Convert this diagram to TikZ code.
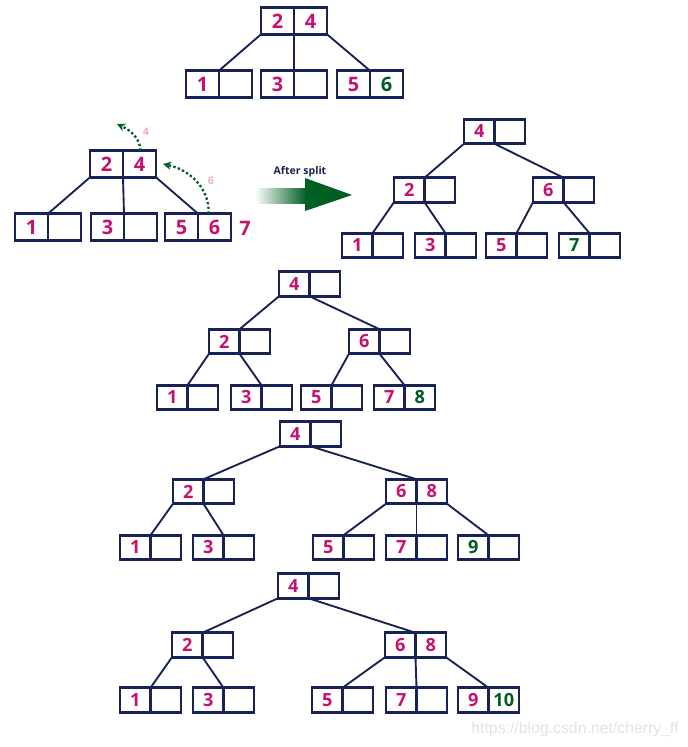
\documentclass[tikz,border=0pt]{standalone}
\usepackage{fontspec}
\setmainfont{Open Sans}
\newfontfamily\wmfont{Liberation Sans}
\usetikzlibrary{arrows.meta}

\definecolor{knavy}{RGB}{24,34,84}
\definecolor{kpink}{RGB}{200,16,110}
\definecolor{kgreen}{RGB}{0,92,32}
\definecolor{klight}{RGB}{242,165,205}
\definecolor{agreen}{RGB}{0,96,36}

\newcommand{\keys}{\fontsize{15.5}{15.5}\selectfont\bfseries}
\newcommand{\bigkeys}{\fontsize{17}{17}\selectfont\bfseries}
\newcommand{\nw}[1]{\textcolor{kgreen}{#1}}

%% one B-tree node = two key cells side by side
\newcommand{\keynode}[5]{%
    \node[cell] (#1a) at (#2,#3) {#4};
    \node[cell,anchor=west] (#1b) at (#1a.east) {#5};
}

\tikzset{
    cell/.style={draw=knavy, line width=2.2pt, text=kpink, font=\keys,
        minimum width=0.915cm, minimum height=0.735cm, inner sep=0pt, outer sep=0pt},
    bigcell/.style={cell/.append style={minimum width=0.99cm, minimum height=0.8cm, font=\bigkeys}},
    edge/.style={draw=knavy, line width=1.6pt},
    moveup/.style={draw=agreen, line width=2pt, dotted, -{Stealth[length=7pt,width=7pt]}},
}

\begin{document}
\begin{tikzpicture}[x=0.03cm,y=-0.03cm]
    \useasboundingbox (0,0) rectangle (687,747);

    %% insert 6
    \begin{scope}[bigcell]
        \keynode{t1r}{277.5}{21}{2}{4}
        \keynode{t1p}{202.5}{84}{1}{}
        \keynode{t1q}{277.5}{84}{3}{}
        \keynode{t1s}{353.5}{84}{5}{\nw{6}}
    \end{scope}
    \draw[edge] (t1ra.south west) -- (t1pa.north east);
    \draw[edge] (t1ra.south east) -- (t1qa.north east);
    \draw[edge] (t1rb.south east) -- (t1sa.north east);

    %% insert 7, node overflows
    \begin{scope}[bigcell]
        \keynode{t2r}{106.5}{164}{2}{4}
        \keynode{t2p}{31.5}{227}{1}{}
        \keynode{t2q}{107.5}{227}{3}{}
        \keynode{t2s}{181.5}{227}{5}{6}
    \end{scope}
    \node[font=\bigkeys, text=kpink] (seven) at (245,228) {7};
    \draw[edge] (t2ra.south west) -- (t2pa.north east);
    \draw[edge] (t2ra.south east) -- (t2qa.north east);
    \draw[edge] (t2rb.south east) -- (t2sa.north east);
    \coordinate (up4) at (117,124);
    \draw[moveup] ([xshift=1pt]t2rb.north) to[out=95,in=-25] (up4);
    \node[text=klight, font=\fontsize{9}{9}\selectfont\bfseries] (l4) at (146,132) {4};
    \draw[moveup] ([xshift=-5pt]t2sb.north) to[out=88,in=-12] ([xshift=6pt]t2rb.east);
    \node[text=klight, font=\fontsize{9}{9}\selectfont\bfseries] (l6) at (211,181) {6};

    %% split arrow
    \shade[left color=white, right color=agreen] (255,188) rectangle (306,203);
    \fill[agreen] (305,178) -- (352,195) -- (305,211) -- cycle;
    \node[text=knavy, font=\fontsize{9}{9}\selectfont\bfseries] (split) at (300,172) {After split};

    %% after split
    \keynode{t3r}{479.25}{131.5}{4}{}
    \keynode{t3l}{409.25}{190}{2}{}
    \keynode{t3m}{548.25}{190}{6}{}
    \keynode{t3c}{357.25}{245.5}{1}{}
    \keynode{t3d}{430.25}{245.5}{3}{}
    \keynode{t3e}{501.25}{245.5}{5}{}
    \keynode{t3f}{574.25}{245.5}{\nw{7}}{}
    \draw[edge] (t3ra.south west) -- (t3la.north east);
    \draw[edge] (t3ra.south east) -- (t3ma.north east);
    \draw[edge] (t3la.south west) -- (t3ca.north east);
    \draw[edge] (t3la.south east) -- (t3da.north east);
    \draw[edge] (t3ma.south west) -- (t3ea.north east);
    \draw[edge] (t3ma.south east) -- (t3fa.north east);

    %% insert 8
    \keynode{t4r}{294.25}{284}{4}{}
    \keynode{t4l}{224.25}{341.5}{2}{}
    \keynode{t4m}{364.25}{341.5}{6}{}
    \keynode{t4c}{172.25}{397.5}{1}{}
    \keynode{t4d}{246.25}{397.5}{3}{}
    \keynode{t4e}{316.25}{397.5}{5}{}
    \keynode{t4f}{389.25}{397.5}{7}{\nw{8}}
    \draw[edge] (t4ra.south west) -- (t4la.north east);
    \draw[edge] (t4ra.south east) -- (t4ma.north east);
    \draw[edge] (t4la.south west) -- (t4ca.north east);
    \draw[edge] (t4la.south east) -- (t4da.north east);
    \draw[edge] (t4ma.south west) -- (t4ea.north east);
    \draw[edge] (t4ma.south east) -- (t4fa.north east);

    %% insert 9
    \keynode{t5r}{295.25}{434}{4}{}
    \keynode{t5l}{188.25}{491.5}{2}{}
    \keynode{t5m}{401.25}{491.5}{6}{8}
    \keynode{t5c}{135.25}{547.5}{1}{}
    \keynode{t5d}{208.25}{547.5}{3}{}
    \keynode{t5e}{328.25}{547.5}{5}{}
    \keynode{t5f}{401.25}{547.5}{7}{}
    \keynode{t5g}{473.25}{547.5}{\nw{9}}{}
    \draw[edge] (t5ra.south west) -- (t5la.north east);
    \draw[edge] (t5ra.south east) -- (t5ma.north east);
    \draw[edge] (t5la.south west) -- (t5ca.north east);
    \draw[edge] (t5la.south east) -- (t5da.north east);
    \draw[edge] (t5ma.south west) -- (t5ea.north east);
    \draw[edge] (t5ma.south east) -- (t5fa.north east);
    \draw[edge] (t5mb.south east) -- (t5ga.north east);

    %% insert 10
    \keynode{t6r}{293.25}{586}{4}{}
    \keynode{t6l}{187.25}{645}{2}{}
    \keynode{t6m}{400.25}{645}{6}{8}
    \keynode{t6c}{135.25}{700}{1}{}
    \keynode{t6d}{208.25}{700}{3}{}
    \keynode{t6e}{327.25}{700}{5}{}
    \keynode{t6f}{401.25}{700}{7}{}
    \keynode{t6g}{473.25}{700}{9}{\nw{10}}
    \draw[edge] (t6ra.south west) -- (t6la.north east);
    \draw[edge] (t6ra.south east) -- (t6ma.north east);
    \draw[edge] (t6la.south west) -- (t6ca.north east);
    \draw[edge] (t6la.south east) -- (t6da.north east);
    \draw[edge] (t6ma.south west) -- (t6ea.north east);
    \draw[edge] (t6ma.south east) -- (t6fa.north east);
    \draw[edge] (t6mb.south east) -- (t6ga.north east);

    \node[text=black!11, font=\wmfont\fontsize{13.5}{13.5}\selectfont] (wm) at (575,729) {https://blog.csdn.net/cherry\_ff};
\end{tikzpicture}
\end{document}
